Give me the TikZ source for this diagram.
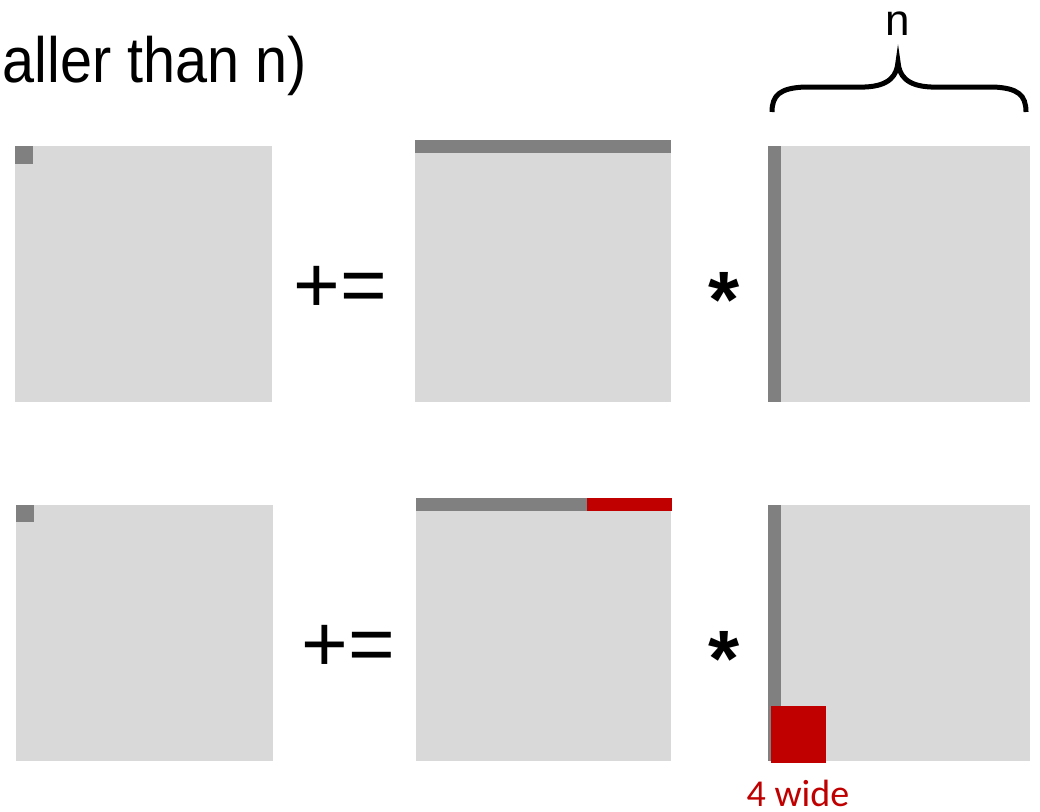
\documentclass[tikz,border=0pt]{standalone}
\usepackage{fontspec}
\setmainfont{Liberation Sans}
\newfontfamily\calfont{Carlito}
\definecolor{lightg}{HTML}{D9D9D9}
\definecolor{darkg}{HTML}{808080}
\definecolor{redc}{HTML}{C00000}
\begin{document}
\begin{tikzpicture}[x=1pt,y=-1pt,
  mat/.style={fill=lightg,draw=none},
  bar/.style={fill=darkg,draw=none},
  redbar/.style={fill=redc,draw=none},
  optxt/.style={font=\fontsize{80}{80}\selectfont,inner sep=0,anchor=base},
  startxt/.style={font=\fontsize{80}{80}\selectfont\bfseries,inner sep=0,anchor=base}]
\useasboundingbox (0,0) rectangle (1040,811);
% clipped heading text
\begin{scope}
\clip (0,0) rectangle (1040,811);
\node[inner sep=0,anchor=base east,font=\fontsize{64}{64}\selectfont] (head) at (307,82) {\scalebox{0.9}[1]{maller than n)}};
\node[inner sep=0,anchor=base,font=\fontsize{64}{64}\selectfont] (headg) at (14,-13) {g};
\end{scope}
% brace and n
\draw[line width=5pt] (772,112) .. controls (772,95) and (780,88) .. (805,87) -- (865,87) .. controls (890,86) and (897,75) .. (898,62) .. controls (899,75) and (906,86) .. (931,87) -- (993,87) .. controls (1018,88) and (1026,95) .. (1026,112);
\node[inner sep=0,anchor=base,font=\fontsize{44}{44}\selectfont] (n) at (898,35) {n};
% top row
\fill[mat] (15,146) rectangle (272,402);
\fill[bar] (15,146) rectangle (33,164);
\fill[mat] (415,153) rectangle (671,402);
\fill[bar] (415,140) rectangle (671,153);
\fill[mat] (768,146) rectangle (1030,402);
\fill[bar] (768,146) rectangle (781,402);
\node[optxt] (pe1) at (340,312) {+=};
\node[startxt] (st1) at (724,327) {*};
% bottom row
\fill[mat] (16,505) rectangle (273,761);
\fill[bar] (16,505) rectangle (34,522);
\fill[mat] (416,511) rectangle (671,761);
\fill[bar] (416,498) rectangle (587,511);
\fill[redbar] (587,498) rectangle (672,511);
\fill[mat] (768,505) rectangle (1030,761);
\fill[bar] (768,505) rectangle (781,761);
\fill[redbar] (771,706) rectangle (826,763);
\node[optxt] (pe2) at (348,671) {+=};
\node[startxt] (st2) at (724,686) {*};
\node[inner sep=0,anchor=base,font=\calfont\fontsize{38}{38}\selectfont,text=redc] (w4) at (798,806) {4 wide};
\end{tikzpicture}
\end{document}
